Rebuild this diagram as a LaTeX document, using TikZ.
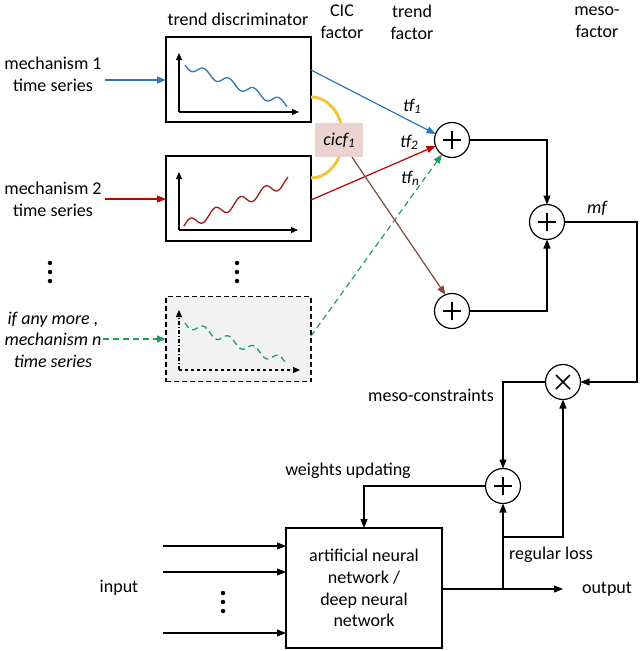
\documentclass[tikz,border=0pt]{standalone}
\usepackage{fontspec}
\setmainfont{Carlito}
\usetikzlibrary{arrows.meta,calc}
\definecolor{cblue}{HTML}{2E75B6}
\definecolor{cred}{HTML}{C00000}
\definecolor{ccurve}{HTML}{9E1B1B}
\definecolor{cgreen}{HTML}{1FA05A}
\definecolor{cbrown}{HTML}{7F4A3A}
\definecolor{cyellow}{HTML}{F2C53D}
\definecolor{cpink}{HTML}{EBD4D0}
\definecolor{cgrey}{HTML}{F2F2F2}
\newcommand{\mysub}[1]{{\fontsize{13}{13}\selectfont\raisebox{-2pt}{#1}}}
\begin{document}
\begin{tikzpicture}[x=1pt,y=-1pt,
  every node/.style={font=\fontsize{18}{22}\selectfont},
  lbl/.style={align=center, inner sep=0pt},
  tbox/.style={draw, line width=1.3pt, minimum width=145pt, minimum height=85pt, inner sep=0pt, outer sep=0pt},
  con/.style={line width=1.2pt, -{Triangle[length=9pt,width=7pt]}},
  line/.style={line width=1.2pt},
  ax/.style={line width=1.1pt, -{Triangle[length=7pt,width=6pt]}},
  sumnode/.style={circle, draw, line width=1.2pt, minimum size=35pt, inner sep=0pt, outer sep=0pt,
    path picture={\draw[line width=1.5pt]
      ([xshift=-9pt]path picture bounding box.center) -- ([xshift=9pt]path picture bounding box.center)
      ([yshift=-9pt]path picture bounding box.center) -- ([yshift=9pt]path picture bounding box.center);}},
  mulnode/.style={circle, draw, line width=1.2pt, minimum size=35pt, inner sep=0pt, outer sep=0pt,
    path picture={\draw[line width=1.5pt]
      ([xshift=-7pt,yshift=-7pt]path picture bounding box.center) -- ([xshift=7pt,yshift=7pt]path picture bounding box.center)
      ([xshift=-7pt,yshift=7pt]path picture bounding box.center) -- ([xshift=7pt,yshift=-7pt]path picture bounding box.center);}},
  dotmark/.style={circle, fill, inner sep=0pt, minimum size=4.5pt}
]
\useasboundingbox (0,0) rectangle (640,651);

% headers
\node[lbl] (hTD) at (238,19) {trend discriminator};
\node[lbl] (hCIC) at (342,22) {CIC\\factor};
\node[lbl] (hTF) at (412,22) {trend\\factor};
\node[lbl] (hMF) at (597,22) {meso-\\factor};

% left labels
\node[lbl] (m1) at (53,74) {mechanism 1\\time series};
\node[lbl] (m2) at (53,199) {mechanism 2\\time series};
\node[lbl, font=\fontsize{18}{21.5}\selectfont\itshape] (mn) at (53,339.5) {if any more ,\\mechanism n\\time series};

% dots
\node[dotmark] (d1a) at (50,263) {};
\node[dotmark] (d1b) at (50,272) {};
\node[dotmark] (d1c) at (50,281) {};
\node[dotmark] (d2a) at (237,263) {};
\node[dotmark] (d2b) at (237,272) {};
\node[dotmark] (d2c) at (237,281) {};

% trend discriminator boxes
\node[tbox] (box1) at (238.5,79.5) {};
\node[tbox] (box2) at (238.5,198.5) {};
\node[tbox, dashed, fill=cgrey, dash pattern=on 5pt off 3pt] (box3) at (238.5,339) {};

% axes and curves
\draw[ax] (179,112) -- (179,53);
\draw[ax] (179,112) -- (299,112);
\draw[cblue, line width=1.3pt] plot[domain=185:287, samples=90, smooth] (\x,{65+0.39*(\x-185)+4*sin(14.4*(\x-185))});
\draw[ax] (179,230) -- (179,172);
\draw[ax] (179,230) -- (298,230);
\draw[ccurve, line width=1.3pt] plot[domain=184:288, samples=90, smooth] (\x,{226-0.43*(\x-184)-5*sin(14.4*(\x-184))});
\draw[ax, dash pattern=on 4pt off 2pt on 1pt off 2pt] (179,370) -- (179,310);
\draw[ax, dashed] (179,370) -- (300,370);
\draw[cgreen, line width=1.3pt, dash pattern=on 6pt off 4pt] plot[domain=185:287, samples=90, smooth] (\x,{323+0.39*(\x-185)+4*sin(14.4*(\x-185))});

% input arrows to boxes
\coordinate (s1) at (105,80);
\coordinate (s2) at (105,199);
\coordinate (s3) at (103,339);
\draw[con, cblue] (s1) -- (box1.west |- s1);
\draw[con, cred] (s2) -- (box2.west |- s2);
\draw[con, cgreen, dashed, dash pattern=on 6pt off 4pt] (s3) -- (box3.west |- s3);

% yellow arc
\draw[cyellow, line width=3pt] ([yshift=-17.5pt]box1.east) arc[start angle=-90, end angle=90, x radius=32, y radius=40.5];

% cicf box
\node[fill=cpink, minimum width=48pt, minimum height=34pt, inner sep=0pt, font=\fontsize{18}{22}\selectfont\itshape] (cicf) at (339,140) {cicf\mysub{1}};

% sum nodes
\node[sumnode] (c1) at (452,140) {};
\node[sumnode] (c2) at (547,222) {};
\node[sumnode] (c3) at (452,311) {};
\node[mulnode] (cx) at (563,382) {};
\node[sumnode] (c4) at (503,486) {};

% connectors to c1
\draw[con, cblue] ([yshift=9.5pt]box1.east) -- (c1.160);
\draw[con, cred] ([yshift=-1.5pt]box2.east) -- (c1.200);
\draw[con, cgreen, dash pattern=on 6pt off 4pt] ([yshift=3pt]box3.east) -- (c1.235);
\draw[con, cbrown] ([xshift=13pt]cicf.south) -- (c3.112);

% trend factor labels
\node[lbl, font=\fontsize{18}{22}\selectfont\itshape] (tf1) at (412,106) {tf\mysub{1}};
\node[lbl, font=\fontsize{18}{22}\selectfont\itshape] (tf2) at (409,142) {tf\mysub{2}};
\node[lbl, font=\fontsize{18}{22}\selectfont\itshape] (tfn) at (410,178) {tf\mysub{n}};

% sums to meso factor
\draw[con] (c1.east) -| (c2.north);
\draw[con] (c3.east) -| (c2.south);
\node[lbl, font=\fontsize{18}{22}\selectfont\itshape] (mf) at (597,208) {mf};
\coordinate (r1) at (637,222);
\draw[con] (c2.east) -- (r1) |- (cx.east);

% meso constraints
\node[lbl] (mc) at (431,395) {meso-constraints};
\coordinate (r2) at (503,382);
\draw[con] (cx.west) -- (r2) -- (c4.north);

% NN box
\node[draw, line width=1.2pt, minimum width=156pt, minimum height=120pt, inner sep=0pt, outer sep=0pt, align=center, font=\fontsize{18}{21.7}\selectfont] (nn) at (364,588) {artificial neural\\network /\\deep neural\\network};

% weights updating
\node[lbl] (wu) at (348,471) {weights updating};
\draw[con] (c4.west) -| (nn.north);

% inputs
\node[lbl] (inp) at (119,588) {input};
\coordinate (i1) at (163,546);
\coordinate (i2) at (163,572);
\coordinate (i3) at (163,633);
\draw[con] (i1) -- (nn.west |- i1);
\draw[con] (i2) -- (nn.west |- i2);
\draw[con] (i3) -- (nn.west |- i3);
\node[dotmark] (d3a) at (223,593) {};
\node[dotmark] (d3b) at (223,602) {};
\node[dotmark] (d3c) at (223,611) {};

% output and regular loss
\coordinate (o1) at (563,589);
\coordinate (sp) at (503,589);
\coordinate (sp2) at (503,537);
\coordinate (sp3) at (563,537);
\draw[con] (nn.east |- o1) -- (o1);
\draw[con] (sp) -- (c4.south);
\draw[con] (sp2) -- (sp3) -- (cx.south);
\node[lbl] (out) at (607,589) {output};
\node[lbl] (rl) at (551,555) {regular loss};
\end{tikzpicture}
\end{document}
